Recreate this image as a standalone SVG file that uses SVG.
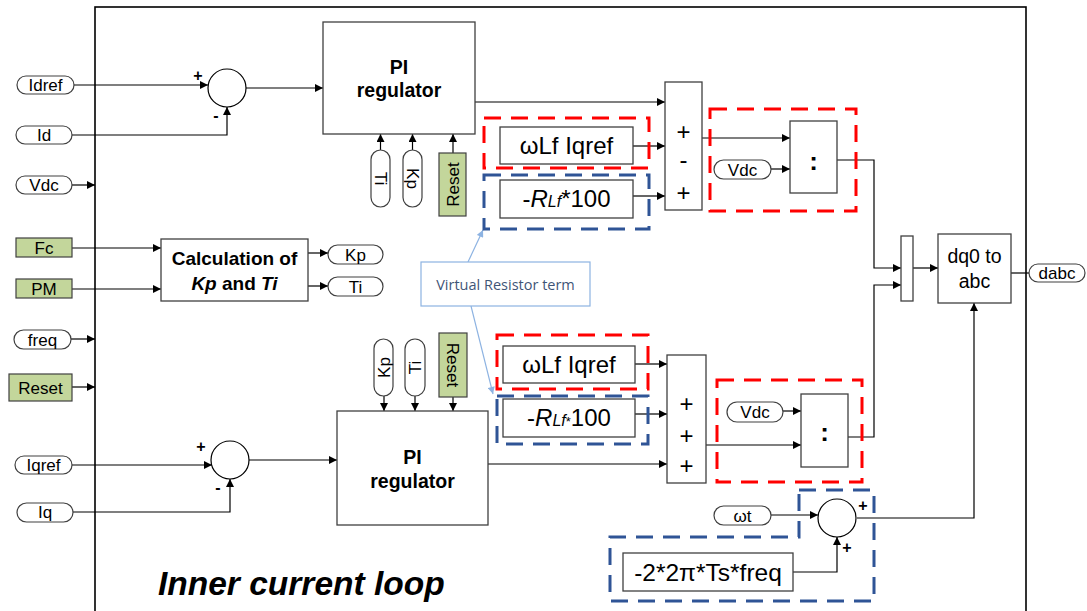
<svg xmlns="http://www.w3.org/2000/svg" width="1087" height="611" viewBox="0 0 1087 611">
<style>
text{font-family:"Liberation Sans",Arial,sans-serif;fill:#000}
.box{fill:#fff;stroke:#404040;stroke-width:1.3}
.pill{fill:#fff;stroke:#404040;stroke-width:1.2}
.grn{fill:#c3d69b;stroke:#404040;stroke-width:1.2}
.w{stroke:#000;stroke-width:1.2;fill:none}
.arr{marker-end:url(#a)}
.rd{fill:none;stroke:#ff0000;stroke-width:3;stroke-dasharray:17,10}
.bd{fill:none;stroke:#2f5496;stroke-width:3;stroke-dasharray:17,10}
.p{font-size:17px;text-anchor:middle}
.b{font-weight:bold}
.sg{font-size:24px;text-anchor:middle}
.sm{font-size:16px;font-weight:bold;text-anchor:middle}
.big{font-size:24px;text-anchor:middle}
</style>
<defs>
<marker id="a" viewBox="0 0 10 10" refX="10" refY="5" markerWidth="9" markerHeight="8" markerUnits="userSpaceOnUse" orient="auto"><path d="M0,0 L10,5 L0,10 z" fill="#000"/></marker>
<marker id="lb" viewBox="0 0 10 10" refX="10" refY="5" markerWidth="8" markerHeight="7" markerUnits="userSpaceOnUse" orient="auto"><path d="M0,0 L10,5 L0,10 z" fill="#8db3e2"/></marker>
</defs>
<rect width="1087" height="611" fill="#fff"/>
<g id="frame"><rect x="95" y="7" width="931" height="620" fill="none" stroke="#000" stroke-width="1.6"/></g>

<g id="connectors">
<path class="w arr" d="M73,85 H208"/>
<path class="w arr" d="M72,135 H227 V107"/>
<path class="w arr" d="M72,185 H95"/>
<path class="w arr" d="M246,88 H323"/>
<path class="w arr" d="M380.5,150 V134"/>
<path class="w arr" d="M412.5,150 V134"/>
<path class="w arr" d="M453,153 V134"/>
<path class="w arr" d="M475,102 H665"/>
<path class="w arr" d="M633,146 H665"/>
<path class="w arr" d="M633,196 H665"/>
<path class="w arr" d="M702,138 H790"/>
<path class="w arr" d="M771,169 H790"/>
<path class="w arr" d="M837,160 H874 V268 H901"/>
<path class="w arr" d="M848,437 H874 V285 H901"/>
<path class="w arr" d="M913,268 H938"/>
<path class="w" d="M1011,273 H1029"/>
<path class="w arr" d="M857,518 H974 V303"/>
<path class="w arr" d="M72,248 H161"/>
<path class="w arr" d="M72,289 H161"/>
<path class="w arr" d="M308,253 H328"/>
<path class="w arr" d="M308,286 H328"/>
<path class="w arr" d="M71,339 H95"/>
<path class="w arr" d="M72,387 H95"/>
<path class="w arr" d="M384,396 V411"/>
<path class="w arr" d="M415,396 V411"/>
<path class="w arr" d="M453,397 V411"/>
<path class="w arr" d="M72,465 H212"/>
<path class="w arr" d="M73,512 H230 V479"/>
<path class="w arr" d="M249,460 H337"/>
<path class="w arr" d="M488,464 H667"/>
<path class="w arr" d="M635,364 H667"/>
<path class="w arr" d="M635,414 H667"/>
<path class="w arr" d="M706,445 H801"/>
<path class="w arr" d="M783,411 H801"/>
<path class="w arr" d="M771,515 H818"/>
<path class="w arr" d="M793,572 H837 V537"/>
<path d="M468,262 L483,230" stroke="#8db3e2" stroke-width="1.2" fill="none" marker-end="url(#lb)"/>
<path d="M471,306 L493,394" stroke="#8db3e2" stroke-width="1.2" fill="none" marker-end="url(#lb)"/>
</g>

<g id="groups">
<rect class="rd" x="484" y="118" width="165" height="50"/>
<rect class="bd" x="484" y="175" width="165" height="54"/>
<rect class="rd" x="710" y="109" width="146" height="102"/>
<rect class="rd" x="497" y="335" width="151" height="54"/>
<rect class="bd" x="497" y="396" width="151" height="48"/>
<rect class="rd" x="717" y="380" width="145" height="102"/>
<path class="bd" d="M799,490 H874 V601 H610 V537 H799 Z"/>
</g>

<g id="in-idref"><rect class="pill" x="17" y="76" width="57" height="18" rx="9"/><text class="p" x="45.5" y="91">Idref</text></g>
<g id="in-id"><rect class="pill" x="16" y="126" width="56" height="18" rx="9"/><text class="p" x="44" y="141">Id</text></g>
<g id="in-vdc"><rect class="pill" x="16" y="176" width="56" height="18" rx="9"/><text class="p" x="44" y="191">Vdc</text></g>
<g id="in-fc"><rect class="grn" x="16" y="238" width="56" height="19"/><text class="p" x="44" y="253.5">Fc</text></g>
<g id="in-pm"><rect class="grn" x="16" y="279" width="56" height="19"/><text class="p" x="44" y="294.5">PM</text></g>
<g id="in-freq"><rect class="pill" x="14" y="330" width="57" height="19" rx="9.5"/><text class="p" x="42.5" y="345.5">freq</text></g>
<g id="in-reset"><rect class="grn" x="9" y="374" width="63" height="27"/><text class="p" x="40.5" y="393.5">Reset</text></g>
<g id="in-iqref"><rect class="pill" x="15" y="456" width="57" height="18" rx="9"/><text class="p" x="43.5" y="471">Iqref</text></g>
<g id="in-iq"><rect class="pill" x="17" y="503" width="56" height="19" rx="9.5"/><text class="p" x="45" y="518">Iq</text></g>

<g id="sum-d"><circle cx="227" cy="88" r="19" fill="#fff" stroke="#000" stroke-width="1.2"/><text class="sm" x="198" y="81">+</text><text class="sm" x="216" y="121">-</text></g>
<g id="pi-d"><rect class="box" x="323" y="22" width="152" height="112"/><text class="b" x="399" y="74" font-size="19.5" text-anchor="middle">PI</text><text class="b" x="399" y="97" font-size="19.5" text-anchor="middle">regulator</text></g>
<g id="ti-top"><rect class="pill" x="371" y="150" width="19" height="57" rx="9.5"/><text class="p" transform="translate(380.5,178.5) rotate(90)" y="6">Ti</text></g>
<g id="kp-top"><rect class="pill" x="403" y="150" width="19" height="57" rx="9.5"/><text class="p" transform="translate(412.5,178.5) rotate(90)" y="6">Kp</text></g>
<g id="reset-top"><rect class="grn" x="439" y="153" width="27" height="63"/><text class="p" transform="translate(452.5,184.5) rotate(-90)" y="6">Reset</text></g>

<g id="wlf-d"><rect class="box" x="500" y="127" width="133" height="37"/><text class="big" x="566.5" y="154">ωLf Iqref</text></g>
<g id="rlf-d"><rect class="box" x="500" y="180" width="133" height="38"/><text class="big" x="566.5" y="207">-<tspan font-style="italic">R</tspan><tspan font-style="italic" font-size="16">Lf</tspan>*100</text></g>
<g id="sumbox-d"><rect class="box" x="665" y="82" width="37" height="128"/><text class="sg" x="683.5" y="140">+</text><text class="sg" x="683.5" y="168">-</text><text class="sg" x="683.5" y="201">+</text></g>
<g id="vdc-d"><rect class="pill" x="714" y="160" width="57" height="19" rx="9.5"/><text class="p" x="742.5" y="175.5">Vdc</text></g>
<g id="div-d"><rect class="box" x="790" y="121" width="47" height="72"/><text x="813.5" y="170" font-size="26" font-weight="bold" text-anchor="middle">:</text></g>

<g id="calc"><rect class="box" x="161" y="239" width="147" height="62"/><text class="b" x="234.5" y="265" font-size="19" text-anchor="middle">Calculation of</text><text class="b" x="234.5" y="290" font-size="19" text-anchor="middle"><tspan font-style="italic">Kp</tspan> and <tspan font-style="italic">Ti</tspan></text></g>
<g id="out-kp"><rect class="pill" x="328" y="245" width="55" height="19" rx="9.5"/><text class="p" x="355.5" y="260.5">Kp</text></g>
<g id="out-ti"><rect class="pill" x="328" y="277" width="55" height="19" rx="9.5"/><text class="p" x="355.5" y="292.5">Ti</text></g>

<g id="callout"><rect x="421" y="262" width="169" height="44" fill="#fff" stroke="#8db3e2" stroke-width="1.2"/><text x="505.5" y="289.5" font-size="14.5" text-anchor="middle" style="font-family:'Open Sans','Noto Sans',sans-serif;fill:#3f5577">Virtual Resistor term</text></g>

<g id="kp-bot"><rect class="pill" x="374" y="339" width="19" height="57" rx="9.5"/><text class="p" transform="translate(383.5,367.5) rotate(-90)" y="6">Kp</text></g>
<g id="ti-bot"><rect class="pill" x="405" y="339" width="20" height="57" rx="10"/><text class="p" transform="translate(415,367.5) rotate(-90)" y="6">Ti</text></g>
<g id="reset-bot"><rect class="grn" x="439" y="333" width="28" height="64"/><text class="p" transform="translate(453,365) rotate(90)" y="6">Reset</text></g>

<g id="sum-q"><circle cx="230" cy="460" r="19" fill="#fff" stroke="#000" stroke-width="1.2"/><text class="sm" x="201" y="452">+</text><text class="sm" x="218" y="493">-</text></g>
<g id="pi-q"><rect class="box" x="337" y="411" width="151" height="114"/><text class="b" x="412.5" y="464" font-size="19.5" text-anchor="middle">PI</text><text class="b" x="412.5" y="488" font-size="19.5" text-anchor="middle">regulator</text></g>
<g id="wlf-q"><rect class="box" x="503" y="346" width="132" height="37"/><text class="big" x="569" y="373">ωLf Iqref</text></g>
<g id="rlf-q"><rect class="box" x="503" y="399" width="132" height="38"/><text class="big" x="569" y="426">-<tspan font-style="italic">R</tspan><tspan font-style="italic" font-size="16">Lf</tspan><tspan font-size="13">*</tspan>100</text></g>
<g id="sumbox-q"><rect class="box" x="667" y="355" width="39" height="128"/><text class="sg" x="686.5" y="412">+</text><text class="sg" x="686.5" y="444">+</text><text class="sg" x="686.5" y="474">+</text></g>
<g id="vdc-q"><rect class="pill" x="727" y="402" width="56" height="20" rx="10"/><text class="p" x="755" y="418">Vdc</text></g>
<g id="div-q"><rect class="box" x="801" y="394" width="47" height="73"/><text x="824.5" y="441" font-size="26" font-weight="bold" text-anchor="middle">:</text></g>

<g id="wt"><rect class="pill" x="714" y="506" width="57" height="19" rx="9.5"/><text class="p" x="742.5" y="521.5">ωt</text></g>
<g id="sum-th"><circle cx="837" cy="518" r="19" fill="#fff" stroke="#000" stroke-width="1.2"/><text class="sm" x="863" y="511">+</text><text class="sm" x="847" y="553">+</text></g>
<g id="freqterm"><rect class="box" x="623" y="553" width="170" height="38"/><text x="708" y="581" font-size="24.5" text-anchor="middle">-2*2π*Ts*freq</text></g>

<g id="mux"><rect class="box" x="901" y="236" width="12" height="65"/></g>
<g id="dq0"><rect class="box" x="938" y="234" width="73" height="69"/><text x="974.5" y="263" font-size="19.5" text-anchor="middle">dq0 to</text><text x="974.5" y="288" font-size="19.5" text-anchor="middle">abc</text></g>
<g id="out-dabc"><rect class="pill" x="1029" y="264" width="56" height="18" rx="9"/><text class="p" x="1057" y="279">dabc</text></g>

<g id="title"><text x="158" y="595" font-size="33.5" font-weight="bold" font-style="italic">Inner current loop</text></g>
</svg>
